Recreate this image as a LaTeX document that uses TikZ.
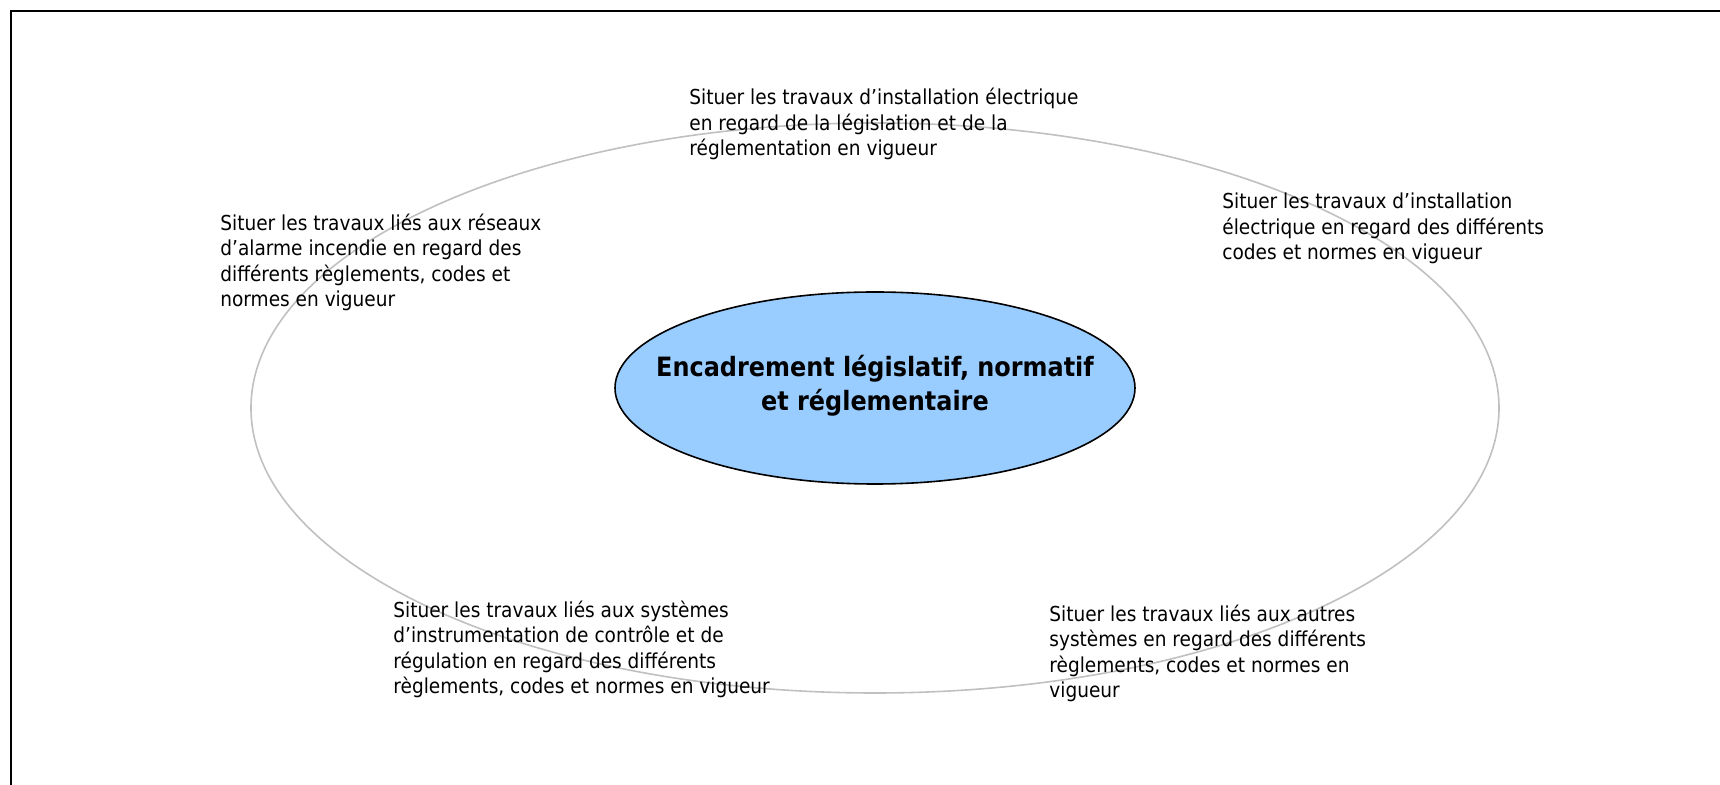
\documentclass[tikz,border=0pt]{standalone}
\usepackage{fontspec}
\setmainfont{DejaVu Sans Condensed}
\definecolor{ringgray}{RGB}{192,192,192}
\definecolor{coreblue}{RGB}{153,204,255}
\tikzset{
  skilltext/.style={anchor=base west, align=left, inner sep=0pt,
    font=\fontsize{10.3}{12.75}\selectfont},
}
\begin{document}
\begin{tikzpicture}[x=0.5pt,y=-0.5pt]
        \useasboundingbox (0,0) rectangle (1720,785);

        \draw[line width=1.1pt] (11,785) -- (11,11) -- (1720,11);

        \draw[ringgray, line width=0.8pt] (875,408) ellipse [x radius=312pt, y radius=142.5pt];
        \filldraw[fill=coreblue, draw=black, line width=0.8pt] (875,388) ellipse [x radius=130pt, y radius=48pt];

        % anchors sit on the baseline of the last line
        \node[anchor=base, align=center, inner sep=0pt, font=\fontsize{13.3}{17}\selectfont\bfseries] (core) at (875,411)
          {Encadrement législatif, normatif\\et réglementaire};

        \node[skilltext] (legis) at (689,156)
          {Situer les travaux d’installation électrique\\en regard de la législation et de la\\réglementation en vigueur};
        \node[skilltext] (incendie) at (220,307)
          {Situer les travaux liés aux réseaux\\d’alarme incendie en regard des\\différents règlements, codes et\\normes en vigueur};
        \node[skilltext] (normes) at (1222,260)
          {Situer les travaux d’installation\\électrique en regard des différents\\codes et normes en vigueur};
        \node[skilltext] (regulation) at (393,694)
          {Situer les travaux liés aux systèmes\\d’instrumentation de contrôle et de\\régulation en regard des différents\\règlements, codes et normes en vigueur};
        \node[skilltext] (autres) at (1049,698)
          {Situer les travaux liés aux autres\\systèmes en regard des différents\\règlements, codes et normes en\\vigueur};
    \end{tikzpicture}
\end{document}
